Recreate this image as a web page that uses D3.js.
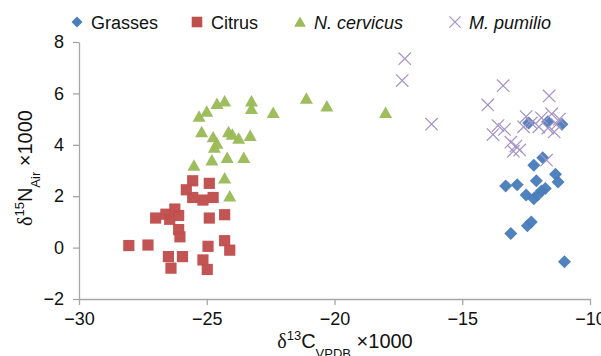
<!DOCTYPE html>
<html>
<head>
<meta charset="utf-8">
<script src="https://cdn.jsdelivr.net/npm/d3@7"></script>
<style>
  body { margin: 0; background: #fff; }
  svg { display: block; font-family: "Liberation Sans", Arial, sans-serif; }
</style>
</head>
<body>
<div id="chart"></div>
<script>
// series values, [δ13C, δ15N]
const grasses = [
  [-12.4, 4.85], [-11.65, 4.9], [-11.1, 4.8], [-12.2, 3.2], [-11.85, 3.5],
  [-11.35, 2.85], [-11.25, 2.55], [-13.3, 2.4], [-12.85, 2.45], [-12.1, 2.6],
  [-12.5, 2.05], [-12.2, 1.9], [-11.9, 2.2], [-12.05, 2.05], [-11.75, 2.3],
  [-12.45, 0.85], [-12.3, 1.0], [-13.1, 0.55], [-11.0, -0.55]
];
const citrus = [
  [-28.05, 0.08], [-27.3, 0.1], [-27.0, 1.15], [-26.6, 1.3], [-26.25, 1.5],
  [-26.45, 1.1], [-26.1, 1.25], [-26.1, 0.7], [-26.05, 0.42], [-26.5, -0.35],
  [-26.4, -0.8], [-25.95, -0.35], [-25.55, 2.6], [-25.8, 2.25], [-25.55, 1.95],
  [-25.15, 1.85], [-24.9, 2.5], [-24.75, 1.95], [-24.9, 1.15], [-24.3, 1.28],
  [-24.95, 0.05], [-25.15, -0.48], [-24.98, -0.85], [-24.3, 0.27], [-24.1, -0.1]
];
const cervicus = [
  [-25.3, 5.1], [-25.0, 5.3], [-24.6, 5.6], [-24.3, 5.7], [-23.25, 5.7],
  [-23.25, 5.4], [-22.4, 5.25], [-21.1, 5.8], [-20.3, 5.5], [-18.0, 5.25],
  [-25.2, 4.5], [-24.75, 4.3], [-24.6, 4.05], [-24.7, 3.9], [-24.15, 4.5],
  [-24.0, 4.4], [-23.75, 4.25], [-23.3, 4.35], [-24.8, 3.4], [-24.2, 3.5],
  [-23.55, 3.5], [-25.5, 3.2], [-24.3, 2.7], [-24.1, 2.0]
];
const pumilio = [
  [-17.25, 7.35], [-17.35, 6.5], [-16.2, 4.8], [-13.4, 6.3], [-14.0, 5.55],
  [-11.6, 5.9], [-12.5, 5.1], [-13.6, 4.75], [-13.35, 4.6], [-13.8, 4.4],
  [-13.1, 4.1], [-12.9, 3.95], [-13.0, 3.75], [-12.75, 3.8], [-11.9, 5.05],
  [-11.5, 5.2], [-12.0, 4.7], [-12.3, 4.85], [-11.65, 4.65], [-11.3, 4.8],
  [-11.4, 4.5], [-11.2, 5.0], [-11.7, 3.4], [-12.6, 4.7]
];

const xTicks = [-30, -25, -20, -15, -10];
const yTicks = [-2, 0, 2, 4, 6, 8];
const legendNames = ["Grasses", "Citrus", "N. cervicus", "M. pumilio"];

const width = 601, height = 356;
const margin = { top: 42, right: 11, bottom: 57, left: 79 };

const svg = d3.select("#chart").append("svg")
  .attr("width", width)
  .attr("height", height);

const x = d3.scaleLinear().domain([-30, -10]).range([margin.left, width - margin.right]);
const y = d3.scaleLinear().domain([-2, 8]).range([height - margin.bottom, margin.top]);

// Axes
const axisColor = "#a6a6a6";
const xAxis = svg.append("g")
  .attr("transform", `translate(0,${y(-2)})`)
  .call(d3.axisBottom(x).tickValues(xTicks).tickSize(6).tickPadding(7).tickSizeOuter(0));
const yAxis = svg.append("g")
  .attr("transform", `translate(${x(-30)},0)`)
  .call(d3.axisLeft(y).tickValues(yTicks).tickSize(6).tickPadding(9).tickSizeOuter(0));

[xAxis, yAxis].forEach(a => {
  a.select(".domain").attr("stroke", axisColor).attr("stroke-width", 1.3);
  a.selectAll(".tick line").attr("stroke", axisColor).attr("stroke-width", 1.3);
  a.selectAll(".tick text")
    .attr("fill", "#111")
    .style("font-size", "18px")
    .style("font-family", "'Liberation Sans', Arial, sans-serif");
});

// Marker shapes
const shapes = {
  diamond: r => `M0,${-r}L${r},0L0,${r}L${-r},0Z`,
  square: r => `M${-r},${-r}H${r}V${r}H${-r}Z`,
  triangle: r => `M0,${-r}L${r * 1.05},${r * 0.85}L${-r * 1.05},${r * 0.85}Z`,
  cross: r => `M${-r},${-r}L${r},${r}M${-r},${r}L${r},${-r}`
};

const series = [
  { data: grasses, shape: "diamond", r: 6.5, fill: "#4a7ebb", stroke: "none" },
  { data: citrus, shape: "square", r: 5.6, fill: "#c0504d", stroke: "none" },
  { data: cervicus, shape: "triangle", r: 6.2, fill: "#9bbb59", stroke: "none" },
  { data: pumilio, shape: "cross", r: 6.2, fill: "none", stroke: "#a393c6" }
];

const plot = svg.append("g");
series.forEach(s => {
  plot.append("g").selectAll("path")
    .data(s.data)
    .join("path")
    .attr("transform", d => `translate(${x(d[0])},${y(d[1])})`)
    .attr("d", shapes[s.shape](s.r))
    .attr("fill", s.fill)
    .attr("stroke", s.stroke)
    .attr("stroke-width", 1.2)
    .attr("opacity", s.shape === "cross" ? 1 : 0.97);
});

// Legend
const legendX = [77, 197, 300, 455];
const legend = svg.append("g").attr("transform", "translate(0,22)");
series.forEach((s, i) => {
  const g = legend.append("g").attr("transform", `translate(${legendX[i]},0)`);
  g.append("path")
    .attr("d", shapes[s.shape](s.shape === "diamond" ? 5.5 : s.shape === "square" ? 5.3 : 5.6))
    .attr("fill", s.fill)
    .attr("stroke", s.stroke)
    .attr("stroke-width", 1.2);
  g.append("text")
    .attr("x", 14)
    .attr("y", 6.5)
    .style("font-size", "18px")
    .style("font-style", i >= 2 ? "italic" : "normal")
    .attr("fill", "#111")
    .text(legendNames[i]);
});

// Axis titles
const xTitle = svg.append("text")
  .attr("x", 345)
  .attr("y", 348)
  .attr("text-anchor", "middle")
  .attr("fill", "#111")
  .style("font-size", "20px");
xTitle.append("tspan").style("font-family", "'Liberation Serif', serif").text("δ");
xTitle.append("tspan").attr("dy", -8).style("font-size", "13px").text("13");
xTitle.append("tspan").attr("dy", 8).text("C");
xTitle.append("tspan").attr("dy", 10).style("font-size", "13px").text("VPDB");
xTitle.append("tspan").attr("dy", -10).text(" ×1000");

const yTitle = svg.append("text")
  .attr("transform", `translate(32,${168}) rotate(-90)`)
  .attr("text-anchor", "middle")
  .attr("fill", "#111")
  .style("font-size", "20px");
yTitle.append("tspan").style("font-family", "'Liberation Serif', serif").text("δ");
yTitle.append("tspan").attr("dy", -8).style("font-size", "13px").text("15");
yTitle.append("tspan").attr("dy", 8).text("N");
yTitle.append("tspan").attr("dy", 8).style("font-size", "13px").text("Air");
yTitle.append("tspan").attr("dy", -8).text(" ×1000");
</script>
</body>
</html>
